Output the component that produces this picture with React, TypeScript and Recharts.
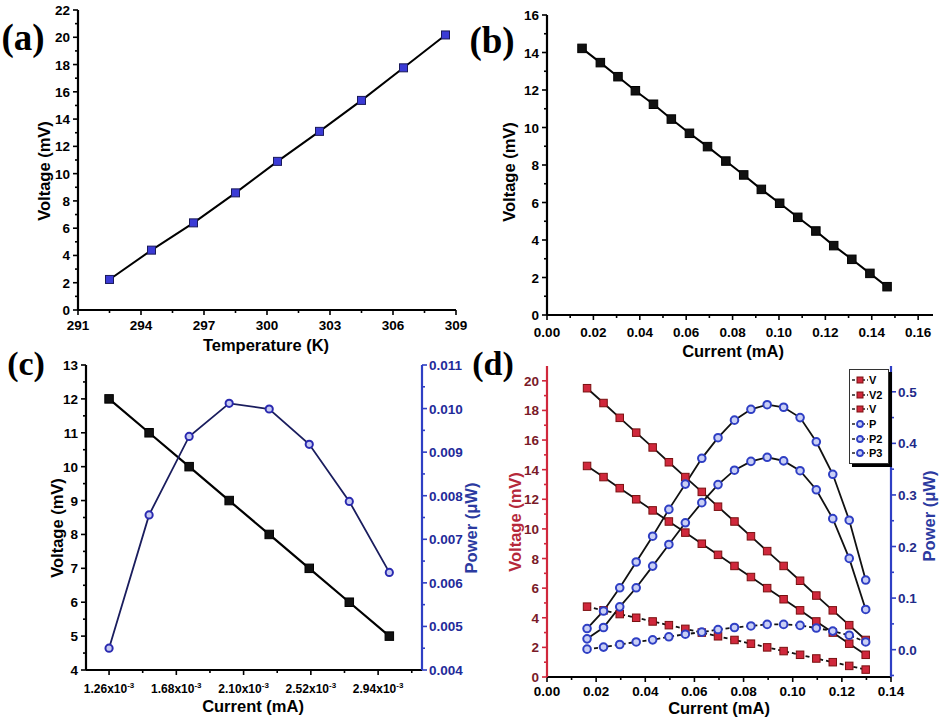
import React from "react";
import { LineChart, ComposedChart, Line, XAxis, YAxis, Legend } from "recharts";

// (a) voltage vs temperature
const tempK = [292.5, 294.5, 296.5, 298.5, 300.5, 302.5, 304.5, 306.5, 308.5];
const voltA = [2.24, 4.39, 6.39, 8.59, 10.9, 13.1, 15.37, 17.76, 20.17];
const tempTicks = [291, 294, 297, 300, 303, 306, 309];
const voltTicksA = [0, 2, 4, 6, 8, 10, 12, 14, 16, 18, 20, 22];

// (b) voltage vs current
const currentB = [
  0.0151, 0.023, 0.0306, 0.0381, 0.0459, 0.0536, 0.0614, 0.0692, 0.0771,
  0.0848, 0.0924, 0.1003, 0.1081, 0.1159, 0.1236, 0.1314, 0.1392, 0.1466,
];
const voltB = [
  14.22, 13.46, 12.71, 11.96, 11.24, 10.45, 9.69, 8.98, 8.21, 7.47, 6.7, 5.96,
  5.21, 4.48, 3.7, 2.97, 2.22, 1.51,
];
const currentTicksB = [0, 0.02, 0.04, 0.06, 0.08, 0.1, 0.12, 0.14, 0.16];
const voltTicksB = [0, 2, 4, 6, 8, 10, 12, 14, 16];

// (c) voltage + power vs current
const currentC = [0.00126, 0.00151, 0.00176, 0.00201, 0.00226, 0.00251, 0.00276, 0.00301];
const voltC = [12, 11, 10, 9, 8, 7, 6, 5];
const powerC = [0.0045, 0.00756, 0.00936, 0.01012, 0.00999, 0.00918, 0.00787, 0.00624];
const currentTicksC = [0.00126, 0.00168, 0.0021, 0.00252, 0.00294];
const voltTicksC = [4, 5, 6, 7, 8, 9, 10, 11, 12, 13];
const powerTicksC = [0.004, 0.005, 0.006, 0.007, 0.008, 0.009, 0.01, 0.011];

// (d) three voltage and three power curves
const currentD = [
  0.0163, 0.023, 0.0296, 0.0363, 0.043, 0.0496, 0.0563, 0.063, 0.0696,
  0.0763, 0.083, 0.0896, 0.0963, 0.103, 0.1096, 0.1163, 0.123, 0.1297,
];
const v1D = [19.5, 18.5, 17.5, 16.5, 15.5, 14.5, 13.5, 12.5, 11.5, 10.5, 9.5, 8.5, 7.5, 6.5, 5.5, 4.5, 3.5, 2.5];
const v2D = [14.25, 13.5, 12.75, 12.0, 11.25, 10.5, 9.75, 9.0, 8.25, 7.5, 6.75, 6.0, 5.25, 4.5, 3.75, 3.0, 2.25, 1.5];
const v3D = [4.75, 4.5, 4.25, 4.0, 3.75, 3.5, 3.25, 3.0, 2.75, 2.5, 2.25, 2.0, 1.75, 1.5, 1.25, 1.0, 0.75, 0.5];
const p1D = [0.041, 0.075, 0.12, 0.17, 0.22, 0.272, 0.321, 0.371, 0.411, 0.445, 0.466, 0.475, 0.47, 0.45, 0.403, 0.34, 0.251, 0.135];
const p2D = [0.021, 0.043, 0.083, 0.12, 0.162, 0.204, 0.246, 0.285, 0.32, 0.348, 0.365, 0.373, 0.366, 0.347, 0.31, 0.254, 0.177, 0.078];
const p3D = [0.001, 0.005, 0.01, 0.015, 0.019, 0.025, 0.03, 0.034, 0.039, 0.043, 0.046, 0.049, 0.049, 0.047, 0.042, 0.036, 0.028, 0.015];
const currentTicksD = [0, 0.02, 0.04, 0.06, 0.08, 0.1, 0.12, 0.14];
const voltTicksD = [0, 2, 4, 6, 8, 10, 12, 14, 16, 18, 20];
const powerTicksD = [0, 0.1, 0.2, 0.3, 0.4, 0.5];

const FONT = "'Liberation Sans', Arial, sans-serif";
const RED = "#d0283c";
const BLUE = "#2f3fc4";

const rowsA = tempK.map((t, i) => ({ temp: t, volt: voltA[i] }));
const rowsB = currentB.map((c, i) => ({ current: c, volt: voltB[i] }));
const rowsC = currentC.map((c, i) => ({ current: c, volt: voltC[i], power: powerC[i] }));
const rowsD = currentD.map((c, i) => ({
  current: c, v1: v1D[i], v2: v2D[i], v3: v3D[i], p1: p1D[i], p2: p2D[i], p3: p3D[i],
}));

const seriesD = [
  { key: "v1", name: "V", axis: "left", kind: "square", dashed: false },
  { key: "v2", name: "V2", axis: "left", kind: "square", dashed: false },
  { key: "v3", name: "V", axis: "left", kind: "square", dashed: true },
  { key: "p1", name: "P", axis: "right", kind: "circle", dashed: false },
  { key: "p2", name: "P2", axis: "right", kind: "circle", dashed: false },
  { key: "p3", name: "P3", axis: "right", kind: "circle", dashed: true },
];

// majors plus the half-way minor ticks inside [lo, hi)
function withMinor(majors: number[], lo: number, hi: number) {
  const step = majors[1] - majors[0];
  const out: number[] = [];
  const first = majors[0] - step / 2;
  if (first > lo + 1e-12) out.push(first);
  majors.forEach((m, i) => {
    out.push(m);
    const mid = m + step / 2;
    if (i < majors.length - 1 || mid < hi - 1e-12) out.push(mid);
  });
  return out.filter((v) => v >= lo - 1e-12 && v <= hi + 1e-12);
}

type TickCfg = {
  side: "bottom" | "left" | "right" | "top";
  majors: number[];
  color?: string;
  textColor?: string;
  format?: (v: number) => React.ReactNode;
  inward?: boolean;
  offset?: number;
  fontSize?: number;
};

const makeTick = (cfg: TickCfg) => (props: any) => {
  const { x, y, payload } = props;
  const v: number = payload.value;
  const major = cfg.majors.some((m) => Math.abs(m - v) < 1e-9);
  const len = (major ? 5 : 3) * (cfg.inward ? -1 : 1);
  let x2 = x, y2 = y, tx = x, ty = y;
  let anchor = "middle";
  if (cfg.side === "bottom") { y2 = y + len; ty = y + (cfg.offset ?? 20); }
  else if (cfg.side === "top") { y2 = y - len; }
  else if (cfg.side === "left") { x2 = x - len; tx = x - 8; ty = y + 5; anchor = "end"; }
  else { x2 = x + len; tx = x + 7; ty = y + 5; anchor = "start"; }
  return (
    <g>
      <line x1={x} y1={y} x2={x2} y2={y2} stroke={cfg.color ?? "#000"} strokeWidth={1.6} />
      {major && cfg.format && (
        <text
          x={tx}
          y={ty}
          textAnchor={anchor}
          fill={cfg.textColor ?? "#000"}
          fontSize={cfg.fontSize ?? 13.5}
          fontWeight="bold"
          fontFamily={FONT}
        >
          {cfg.format(v)}
        </text>
      )}
    </g>
  );
};

const axisLine = (color: string) => ({ stroke: color, strokeWidth: 2.2 });

const square = (size: number, fill: string, stroke: string) => (p: any) => (
  <rect
    key={`s${p.index}`}
    x={p.cx - size / 2}
    y={p.cy - size / 2}
    width={size}
    height={size}
    fill={fill}
    stroke={stroke}
    strokeWidth={1}
  />
);

const ring = (r: number, fill: string, stroke: string) => (p: any) => (
  <circle key={`c${p.index}`} cx={p.cx} cy={p.cy} r={r} fill={fill} stroke={stroke} strokeWidth={2} />
);

const expLabel = (v: number) => (
  <>
    <tspan>{(v * 1000).toFixed(2)}x10</tspan>
    <tspan dy={-5} fontSize={8}>-3</tspan>
  </>
);

function Title({ x, y, text, color = "#000", rotate = false, size = 16.5 }: any) {
  return (
    <div
      style={{
        position: "absolute",
        left: x,
        top: y,
        transform: `translate(-50%, -50%)${rotate ? " rotate(-90deg)" : ""}`,
        whiteSpace: "nowrap",
        fontSize: size,
        fontWeight: "bold",
        fontFamily: FONT,
        color,
        lineHeight: 1,
      }}
    >
      {text}
    </div>
  );
}

function PanelTag({ x, y, text, size }: any) {
  return (
    <div
      style={{
        position: "absolute",
        left: x,
        top: y,
        transform: "translate(-50%, -50%)",
        fontFamily: "'Liberation Serif', 'Times New Roman', serif",
        fontWeight: "bold",
        fontSize: size,
        lineHeight: 1,
      }}
    >
      {text}
    </div>
  );
}

function LegendD() {
  return (
    <div
      style={{
        width: 36,
        border: "1px solid #333",
        boxShadow: "3px 3px 0 #000",
        background: "#fff",
        padding: "3px 0 2px 2px",
        fontFamily: FONT,
      }}
    >
      {seriesD.map((s, i) => (
        <div key={i} style={{ display: "flex", alignItems: "center", height: 14.6 }}>
          <svg width={16} height={10}>
            <line x1={0} y1={5} x2={16} y2={5} stroke="#222" strokeWidth={1.5} strokeDasharray="3 2" />
            {s.kind === "square" ? (
              <rect x={5} y={2} width={6} height={6} fill={RED} stroke="#7a1010" strokeWidth={1} />
            ) : (
              <circle cx={8} cy={5} r={3} fill="#c9cff5" stroke={BLUE} strokeWidth={1.8} />
            )}
          </svg>
          <span style={{ fontSize: 11, fontWeight: "bold", marginLeft: 1 }}>{s.name}</span>
        </div>
      ))}
    </div>
  );
}

export default function App() {
  const domA: [number, number] = [291, 309];
  const domAy: [number, number] = [0, 22];
  const domB: [number, number] = [0, 0.1664];
  const domBy: [number, number] = [0, 16];
  const domC: [number, number] = [0.001116, 0.003214];
  const domCv: [number, number] = [4, 13];
  const domCp: [number, number] = [0.004, 0.011];
  const domD: [number, number] = [0, 0.14];
  const domDv: [number, number] = [0, 21];
  const domDp: [number, number] = [-0.053, 0.55];

  return (
    <div style={{ position: "relative", width: 942, height: 726, background: "#fff", fontFamily: FONT }}>
      <style>{"body{margin:0}"}</style>

      {/* (a) */}
      <div style={{ position: "absolute", left: 0, top: 0 }}>
        <LineChart width={470} height={340} data={rowsA} margin={{ top: 10, right: 14, bottom: 0, left: 0 }}>
          <XAxis
            dataKey="temp"
            type="number"
            domain={domA}
            ticks={withMinor(tempTicks, 291, 309)}
            interval={0}
            tickSize={0}
            tickMargin={0}
            height={30}
            axisLine={axisLine("#000")}
            tickLine={false}
            tick={makeTick({ side: "bottom", majors: tempTicks, format: (v) => String(v), offset: 20 })}
          />
          <XAxis xAxisId="top" orientation="top" dataKey="temp" type="number" domain={domA} height={0} tick={false} tickLine={false} axisLine={axisLine("#000")} />
          <YAxis
            type="number"
            domain={domAy}
            ticks={withMinor(voltTicksA, 0, 22)}
            interval={0}
            tickSize={0}
            tickMargin={0}
            width={78}
            axisLine={axisLine("#000")}
            tickLine={false}
            tick={makeTick({ side: "left", majors: voltTicksA, format: (v) => String(v) })}
          />
          <YAxis yAxisId="r" orientation="right" type="number" domain={domAy} width={0} tick={false} tickLine={false} axisLine={axisLine("#000")} />
          <Line dataKey="volt" stroke="#000" strokeWidth={2} dot={square(8, "#3b3bd6", "#1a1a5a")} isAnimationActive={false} />
        </LineChart>
      </div>

      {/* (b) */}
      <div style={{ position: "absolute", left: 470, top: 0 }}>
        <LineChart width={472} height={345} data={rowsB} margin={{ top: 15, right: 9, bottom: 0, left: 0 }}>
          <XAxis
            dataKey="current"
            type="number"
            domain={domB}
            ticks={withMinor(currentTicksB, 0, 0.1664)}
            interval={0}
            tickSize={0}
            tickMargin={0}
            height={30}
            axisLine={axisLine("#000")}
            tickLine={false}
            tick={makeTick({ side: "bottom", majors: currentTicksB, format: (v) => v.toFixed(2), offset: 22 })}
          />
          <XAxis xAxisId="top" orientation="top" dataKey="current" type="number" domain={domB} height={0} tick={false} tickLine={false} axisLine={axisLine("#000")} />
          <YAxis
            type="number"
            domain={domBy}
            ticks={withMinor(voltTicksB, 0, 16)}
            interval={0}
            tickSize={0}
            tickMargin={0}
            width={77}
            axisLine={axisLine("#000")}
            tickLine={false}
            tick={makeTick({ side: "left", majors: voltTicksB, format: (v) => String(v) })}
          />
          <YAxis yAxisId="r" orientation="right" type="number" domain={domBy} width={0} tick={false} tickLine={false} axisLine={axisLine("#000")} />
          <Line dataKey="volt" stroke="#000" strokeWidth={2} dot={square(8.5, "#111", "#000")} isAnimationActive={false} />
        </LineChart>
      </div>

      {/* (c) */}
      <div style={{ position: "absolute", left: 0, top: 340 }}>
        <ComposedChart width={470} height={360} data={rowsC} margin={{ top: 25, right: 0, bottom: 0, left: 0 }}>
          <XAxis
            dataKey="current"
            type="number"
            domain={domC}
            ticks={withMinor(currentTicksC, domC[0], domC[1])}
            interval={0}
            tickSize={0}
            tickMargin={0}
            height={30}
            axisLine={axisLine("#000")}
            tickLine={false}
            tick={makeTick({ side: "bottom", majors: currentTicksC, format: expLabel, offset: 23, fontSize: 12 })}
          />
          <XAxis
            xAxisId="top"
            orientation="top"
            dataKey="current"
            type="number"
            domain={domC}
            ticks={withMinor(currentTicksC, domC[0], domC[1])}
            interval={0}
            tickSize={0}
            tickMargin={0}
            height={0}
            axisLine={axisLine("#000")}
            tickLine={false}
            tick={makeTick({ side: "top", majors: currentTicksC, inward: true })}
          />
          <YAxis
            yAxisId="v"
            type="number"
            domain={domCv}
            ticks={withMinor(voltTicksC, 4, 13)}
            interval={0}
            tickSize={0}
            tickMargin={0}
            width={86}
            axisLine={axisLine("#000")}
            tickLine={false}
            tick={makeTick({ side: "left", majors: voltTicksC, format: (v) => String(v) })}
          />
          <YAxis
            yAxisId="p"
            orientation="right"
            type="number"
            domain={domCp}
            ticks={withMinor(powerTicksC, 0.004, 0.011)}
            interval={0}
            tickSize={0}
            tickMargin={0}
            width={48}
            axisLine={axisLine(BLUE)}
            tickLine={false}
            tick={makeTick({ side: "right", majors: powerTicksC, color: BLUE, textColor: "#1f2b9a", format: (v) => v.toFixed(3) })}
          />
          <Line yAxisId="v" dataKey="volt" stroke="#000" strokeWidth={2.2} dot={square(8.5, "#111", "#000")} isAnimationActive={false} />
          <Line yAxisId="p" dataKey="power" stroke="#1a1d5e" strokeWidth={1.8} dot={ring(3.6, "#c8ccf2", "#2a2ab0")} isAnimationActive={false} />
        </ComposedChart>
      </div>

      {/* (d) */}
      <div style={{ position: "absolute", left: 470, top: 340 }}>
        <ComposedChart width={472} height={370} data={rowsD} margin={{ top: 26, right: 0, bottom: 0, left: 0 }}>
          <XAxis
            dataKey="current"
            type="number"
            domain={domD}
            ticks={withMinor(currentTicksD, 0, 0.14)}
            interval={0}
            tickSize={0}
            tickMargin={0}
            height={33}
            axisLine={axisLine("#000")}
            tickLine={false}
            tick={makeTick({ side: "bottom", majors: currentTicksD, format: (v) => v.toFixed(2), offset: 19 })}
          />
          <XAxis
            xAxisId="top"
            orientation="top"
            dataKey="current"
            type="number"
            domain={domD}
            ticks={withMinor(currentTicksD, 0, 0.14)}
            interval={0}
            tickSize={0}
            tickMargin={0}
            height={0}
            axisLine={axisLine("#000")}
            tickLine={false}
            tick={makeTick({ side: "top", majors: currentTicksD, inward: true })}
          />
          <YAxis
            yAxisId="left"
            type="number"
            domain={domDv}
            ticks={withMinor(voltTicksD, 0, 21)}
            interval={0}
            tickSize={0}
            tickMargin={0}
            width={77}
            axisLine={axisLine(RED)}
            tickLine={false}
            tick={makeTick({ side: "left", majors: voltTicksD, color: RED, textColor: "#7a1a28", format: (v) => String(v) })}
          />
          <YAxis
            yAxisId="right"
            orientation="right"
            type="number"
            domain={domDp}
            ticks={withMinor(powerTicksD, -0.053, 0.55)}
            interval={0}
            tickSize={0}
            tickMargin={0}
            width={51}
            axisLine={axisLine(BLUE)}
            tickLine={false}
            tick={makeTick({ side: "right", majors: powerTicksD, color: BLUE, textColor: "#1f2b8a", format: (v) => v.toFixed(1) })}
          />
          {seriesD.map((s) => (
            <Line
              key={s.key}
              yAxisId={s.axis}
              dataKey={s.key}
              name={s.name}
              stroke="#111"
              strokeWidth={1.8}
              strokeDasharray={s.dashed ? "4 3" : undefined}
              dot={s.kind === "square" ? square(7.5, RED, "#7a1010") : ring(3.8, "#c9cff5", BLUE)}
              isAnimationActive={false}
            />
          ))}
          <Legend
            layout="vertical"
            align="center"
            verticalAlign="middle"
            wrapperStyle={{ left: 379, top: 29, width: 40 }}
            content={() => <LegendD />}
          />
        </ComposedChart>
      </div>

      {/* axis titles */}
      <Title x={44} y={171} text="Voltage (mV)" rotate />
      <Title x={266} y={345} text="Temperature (K)" />
      <Title x={509} y={172} text="Voltage (mV)" rotate />
      <Title x={733} y={351} text="Current (mA)" />
      <Title x={57} y={528} text="Voltage (mV)" rotate />
      <Title x={471} y={528} text="Power (μW)" rotate color="#2b3aa0" />
      <Title x={253} y={706} text="Current (mA)" />
      <Title x={515} y={522} text="Voltage (mV)" rotate color="#b5283a" />
      <Title x={929} y={516} text="Power (μW)" rotate color="#2b3aa0" />
      <Title x={719} y={708} text="Current (mA)" />

      {/* panel tags */}
      <PanelTag x={23} y={37} text="(a)" size={37} />
      <PanelTag x={492} y={40} text="(b)" size={37} />
      <PanelTag x={26} y={364} text="(c)" size={34} />
      <PanelTag x={493} y={364} text="(d)" size={34} />
    </div>
  );
}
